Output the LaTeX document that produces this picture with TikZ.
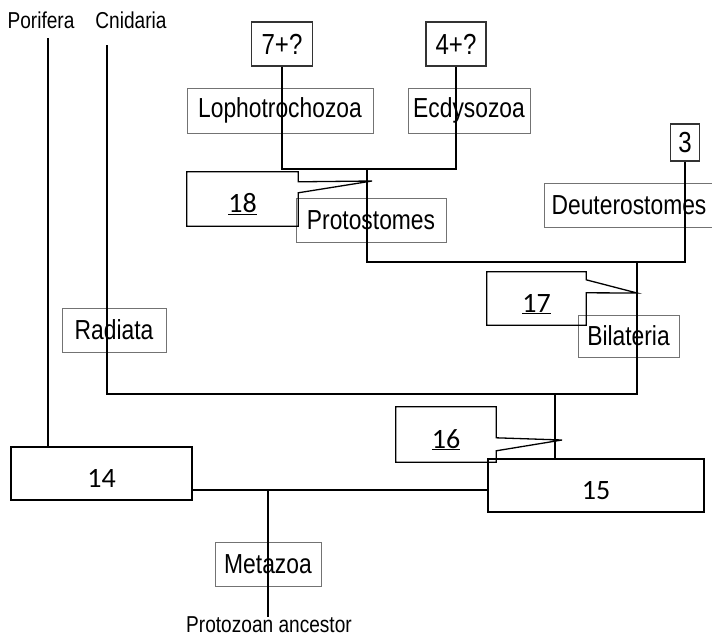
\documentclass[tikz,border=0pt]{standalone}
\usepackage{fontspec}
\setmainfont{Liberation Sans}
\newfontfamily\narrowfont{Liberation Sans}[FakeStretch=0.83]
\newfontfamily\numfont{Carlito}
\usetikzlibrary{calc}

\begin{document}
\begin{tikzpicture}[x=1pt,y=-1pt,
 lbl/.style={draw=black!55, line width=0.9pt, inner sep=0pt, font=\narrowfont\fontsize{27.5}{29}\selectfont},
 topbox/.style={draw=black!80, line width=1.1pt, inner sep=0pt, font=\narrowfont\fontsize{29}{31}\selectfont},
 numbox/.style={inner sep=0pt, text height=27pt, text depth=0pt, font=\numfont\fontsize{28}{30}\selectfont},
 outline/.style={line width=1.3pt, line join=miter},
 taxon/.style={inner sep=0pt, font=\narrowfont\fontsize{23}{25}\selectfont},
 branch/.style={line width=1.7pt}]
 \useasboundingbox (0,0) rectangle (712,638);

 \node (pori) [taxon] at (41,20) {Porifera};
 \node (cnid) [taxon] at (131,20) {Cnidaria};
 \node (anc) [taxon] at (269,625) {Protozoan ancestor};
 \coordinate (poriTop) at (48,38);
 \coordinate (cnidTop) at (107,45);

 \node (seven) [topbox, minimum width=61pt, minimum height=44pt] at (282,44) {7+?};
 \node (four) [topbox, minimum width=60pt, minimum height=44pt] at (456,44) {4+?};
 \node (three) [topbox, minimum width=29pt, minimum height=37pt] at (685,142.5) {3};

 \node (lopho) [lbl, minimum width=186pt, minimum height=45pt] at (280,110.5) {Lophotrochozoa};
 \node (ecdy) [lbl, minimum width=122pt, minimum height=45pt] at (469,110.5) {Ecdysozoa};
 \node (deut) [lbl, minimum width=170pt, minimum height=44pt] at (629,205) {Deuterostomes};
 \node (prot) [lbl, minimum width=150pt, minimum height=44pt] at (371,220) {Protostomes};
 \node (bila) [lbl, minimum width=101pt, minimum height=42pt] at (628.5,336) {Bilateria};
 \node (radi) [lbl, minimum width=104pt, minimum height=44pt] at (114,330) {Radiata};
 \node (meta) [lbl, minimum width=106pt, minimum height=44pt] at (268,564) {Metazoa};

 \node (b18) [numbox, minimum width=111pt, minimum height=54pt] at (242.5,199) {\underline{18}};
 \node (b17) [numbox, minimum width=99pt, minimum height=53pt] at (536.5,298.5) {\underline{17}};
 \node (b16) [numbox, minimum width=100pt, minimum height=55pt] at (446,434.5) {\underline{16}};
 \node (b14) [numbox, draw, line width=1.3pt, minimum width=181pt, minimum height=53pt] at (101.5,473.5) {14};
 \node (b15) [numbox, draw, line width=1.3pt, minimum width=216pt, minimum height=53pt] at (596,485.5) {15};

 \coordinate (jProt) at (367,169);
 \coordinate (jBil) at (637,262);
 \coordinate (j15) at (555,394);
 \coordinate (j14) at (268,490);
 \coordinate (tip18) at (372,181);
 \coordinate (tip17) at (637,293);
 \coordinate (tip16) at (562,440);

 \draw[branch] (poriTop) -- (poriTop |- b14.north);
 \draw[branch] (cnidTop) -- (cnidTop |- j15) -- (j15 -| jBil) -- (jBil);
 \draw[branch] (j15) -- (j15 |- b15.north);
 \draw[branch] (b14.east |- j14) -- (j14) -- (b15.west |- j14);
 \draw[branch] (j14) -- (j14 |- anc.north);
 \draw[branch] (three.south) -- (three.south |- jBil) -- (jProt |- jBil) -- (jProt);
 \draw[branch] (seven.south) -- (seven.south |- jProt) -- (four.south |- jProt) -- (four.south);

 \draw[outline] (b18.north west) -- (b18.north east) -- ++(0,10) -- (tip18)
   -- ($(b18.north east)+(0,21)$) -- (b18.south east) -- (b18.south west) -- cycle;
 \draw[outline] (b17.north west) -- (b17.north east) -- ++(0,8) -- (tip17)
   -- ($(b17.north east)+(0,21)$) -- (b17.south east) -- (b17.south west) -- cycle;
 \draw[outline] (b16.north west) -- (b16.north east) -- ++(0,31) -- (tip16)
   -- ($(b16.north east)+(0,44)$) -- (b16.south east) -- (b16.south west) -- cycle;
\end{tikzpicture}
\end{document}
